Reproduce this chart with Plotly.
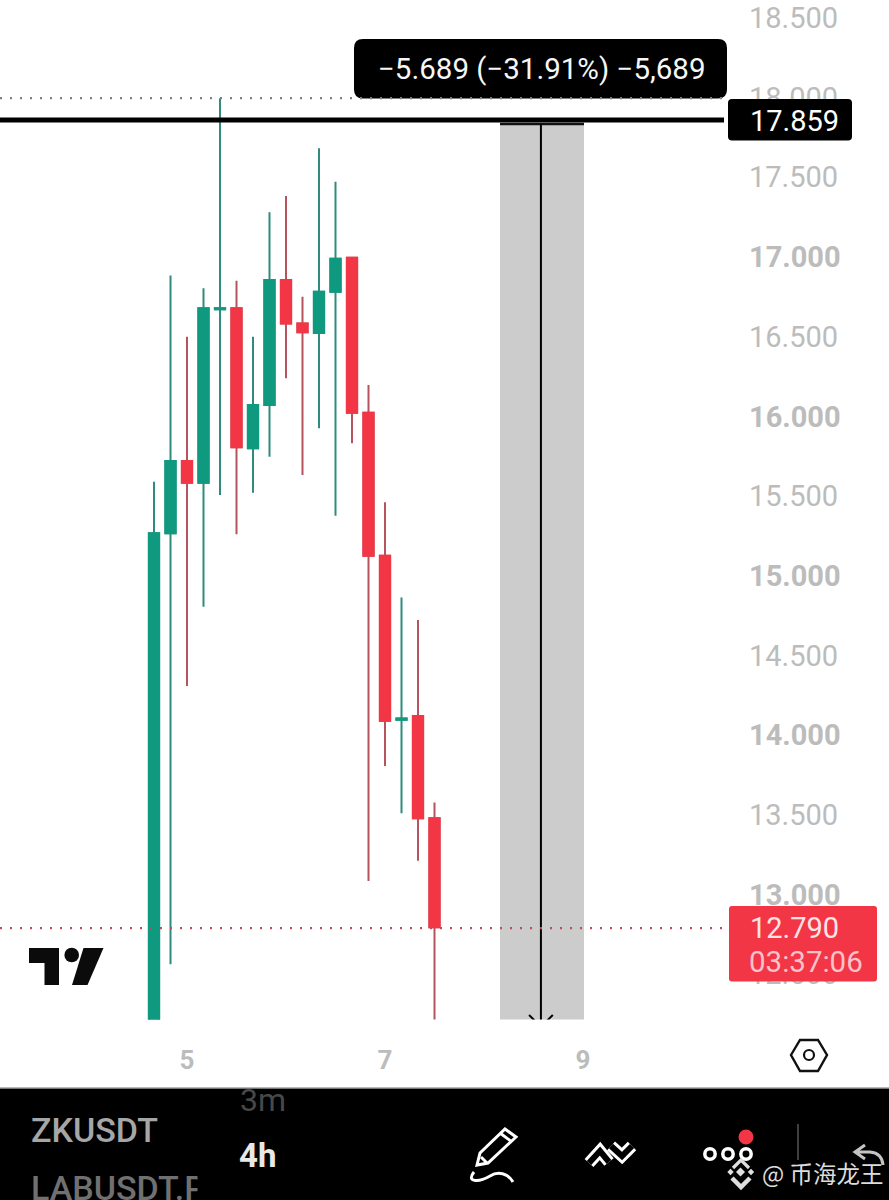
import plotly.graph_objects as go

# 4h candles
opens = [11.90, 15.267, 15.720, 15.584, 16.672, 16.678, 15.800, 16.072, 16.856, 16.582,
         16.523, 16.782, 16.995, 16.023, 15.126, 14.097, 14.120, 13.479]
closes = [15.267, 15.720, 15.584, 16.678, 16.678, 15.806, 16.072, 16.856, 16.582, 16.528,
          16.782, 16.989, 16.023, 15.126, 14.091, 14.104, 13.479, 12.795]
highs = [15.590, 16.883, 16.500, 16.804, 17.996, 16.851, 16.500, 17.280, 17.383, 16.751,
         17.682, 17.472, 17.000, 16.197, 15.461, 14.863, 14.723, 13.577]
lows = [11.80, 12.563, 14.309, 14.806, 15.507, 15.260, 15.521, 15.747, 16.239, 15.632,
        15.925, 15.377, 15.831, 13.085, 13.807, 13.510, 13.213, 12.00]
candle_index = list(range(len(opens)))

# price scale
price_ticks = [18.5, 18.0, 17.5, 17.0, 16.5, 16.0, 15.5, 15.0, 14.5, 14.0, 13.5, 13.0, 12.5]
price_labels = ["18.500", "18.000", "17.500", "<b>17.000</b>", "16.500", "<b>16.000</b>", "15.500",
                "<b>15.000</b>", "14.500", "<b>14.000</b>", "13.500", "<b>13.000</b>", "12.500"]
# date scale
day_ticks = [2, 14, 26]
day_labels = ["5", "7", "9"]

high_level = 17.996
measure_level = 17.859
last_price = 12.790
measure_top = 17.834
measure_bottom = 12.170
measure_left = 20.97
measure_mid = 23.45
measure_right = 26.06

GREEN = "#0f9a80"
RED = "#f23645"
GREEN_WICK = "#2e8b7e"
RED_WICK = "#b5545f"
GREY = "#bcbcbc"
W, H = 889, 1200


def px(x):
    return x / W


def py(y):
    return 1 - y / H


def round_box(x0, y0, x1, y1, r):
    # rounded rectangle in page pixels, as paper path
    pts = f"M {px(x0 + r)},{py(y0)} L {px(x1 - r)},{py(y0)} Q {px(x1)},{py(y0)} {px(x1)},{py(y0 + r)} "
    pts += f"L {px(x1)},{py(y1 - r)} Q {px(x1)},{py(y1)} {px(x1 - r)},{py(y1)} "
    pts += f"L {px(x0 + r)},{py(y1)} Q {px(x0)},{py(y1)} {px(x0)},{py(y1 - r)} "
    pts += f"L {px(x0)},{py(y0 + r)} Q {px(x0)},{py(y0)} {px(x0 + r)},{py(y0)} Z"
    return pts


def poly(points, closed=False):
    s = "M " + " L ".join(f"{px(a)},{py(b)}" for a, b in points)
    return s + (" Z" if closed else "")


def page_path(path, fill=None, line=None, width=0):
    return dict(type="path", xref="paper", yref="paper", path=path, layer="above",
                fillcolor=fill if fill else "rgba(0,0,0,0)",
                line=dict(color=line if line else "rgba(0,0,0,0)", width=width))


def page_circle(cx, cy, r, fill=None, line=None, width=0):
    return dict(type="circle", xref="paper", yref="paper", layer="above",
                x0=px(cx - r), x1=px(cx + r), y0=py(cy + r), y1=py(cy - r),
                fillcolor=fill if fill else "rgba(0,0,0,0)",
                line=dict(color=line if line else "rgba(0,0,0,0)", width=width))


def page_text(text, x, y, size, color, anchor="left", family="Roboto", weight=400):
    return dict(text=text, xref="paper", yref="paper", x=px(x), y=py(y), xanchor=anchor,
                yanchor="middle", showarrow=False, borderpad=0,
                font=dict(family=family, size=size, color=color, weight=weight))


fig = go.Figure()

# full candles give the wicks, the second trace repaints the bodies
fig.add_trace(go.Candlestick(
    x=candle_index, open=opens, high=highs, low=lows, close=closes, whiskerwidth=0,
    increasing=dict(line=dict(color=GREEN_WICK, width=2), fillcolor=GREEN),
    decreasing=dict(line=dict(color=RED_WICK, width=2), fillcolor=RED),
    hoverinfo="skip",
))
fig.add_trace(go.Candlestick(
    x=candle_index, open=opens, close=closes, whiskerwidth=0,
    high=[max(a, b) for a, b in zip(opens, closes)],
    low=[min(a, b) for a, b in zip(opens, closes)],
    increasing=dict(line=dict(color=GREEN, width=2), fillcolor=GREEN),
    decreasing=dict(line=dict(color=RED, width=2), fillcolor=RED),
    hoverinfo="skip",
))

shapes = [
    # measuring tool
    dict(type="rect", xref="x", yref="y", x0=measure_left, x1=measure_right, y0=measure_bottom,
         y1=measure_top, fillcolor="#cccccc", line=dict(width=0), layer="above"),
    dict(type="line", xref="x", yref="y", x0=measure_left, x1=measure_right, y0=measure_top,
         y1=measure_top, line=dict(color="#111111", width=2.5), layer="above"),
    dict(type="line", xref="x", yref="y", x0=measure_mid, x1=measure_mid, y0=measure_bottom,
         y1=measure_top, line=dict(color="#000000", width=2), layer="above"),
    dict(type="path", xref="x", yref="y", layer="above",
         path=f"M {measure_mid - 0.72},{measure_bottom + 0.075} L {measure_mid},{measure_bottom} "
              f"L {measure_mid + 0.72},{measure_bottom + 0.075}",
         line=dict(color="#000000", width=2)),
    # tooltip box, dotted high line runs over its lower edge
    page_path(round_box(354, 39, 727, 98.5, 9), fill="#000000"),
    dict(type="line", xref="paper", yref="y", x0=0, x1=px(727), y0=high_level, y1=high_level,
         line=dict(color="#808080", width=2.2, dash="2px,8px"), layer="above"),
    # level line
    dict(type="line", xref="paper", yref="y", x0=0, x1=px(724), y0=measure_level, y1=measure_level,
         line=dict(color="#000000", width=5), layer="above"),
    dict(type="line", xref="paper", yref="y", x0=0, x1=px(729), y0=last_price, y1=last_price,
         line=dict(color="#bb4f5b", width=2.2, dash="2px,8px"), layer="above"),
    # price labels
    page_path(round_box(728, 99, 852, 140.5, 4), fill="#000000"),
    page_path(round_box(729, 906, 877, 981.5, 3), fill=RED),
    # tradingview logo
    page_path(poly([(29, 948), (59, 948), (59, 985), (44.5, 985), (44.5, 963), (29, 963)], True), fill="#0b0b0b"),
    page_circle(71.7, 955, 7.3, fill="#0b0b0b"),
    page_path(poly([(83.5, 948), (103.5, 948), (87.5, 985), (72, 985)], True), fill="#0b0b0b"),
    # settings hexagon
    page_path(poly([(791, 1055), (800, 1040), (818, 1040), (827, 1055), (818, 1071), (800, 1071)], True),
              line="#111111", width=2.4),
    page_circle(809, 1055, 5, line="#111111", width=2.2),
    # bottom bar
    dict(type="rect", xref="paper", yref="paper", x0=0, x1=1, y0=0, y1=py(1089),
         fillcolor="#000000", line=dict(width=0), layer="above"),
    dict(type="rect", xref="paper", yref="paper", x0=0, x1=1, y0=py(1089), y1=py(1087.5),
         fillcolor="#777777", line=dict(width=0), layer="above"),
    # pencil
    page_path(poly([(477, 1165), (480, 1153), (505, 1129), (516, 1137), (488, 1163)], True),
              line="#ffffff", width=3),
    page_path(poly([(500, 1133), (512, 1142)]), line="#ffffff", width=3),
    page_path(poly([(481, 1157), (487, 1163)]), line="#ffffff", width=3),
    page_path(f"M {px(474)},{py(1172)} C {px(466)},{py(1182)} {px(478)},{py(1183)} {px(490)},{py(1176)} "
              f"C {px(498)},{py(1171)} {px(508)},{py(1173)} {px(513)},{py(1182)}",
              line="#ffffff", width=3),
    # line tools, two outlined chevrons
    page_path(poly([(589, 1163), (600, 1151), (609, 1162)]), line="#ffffff", width=12),
    page_path(poly([(589, 1163), (600, 1151), (609, 1162)]), line="#000000", width=6),
    page_path(poly([(611, 1146), (622, 1156), (632, 1146)]), line="#ffffff", width=12),
    page_path(poly([(611, 1146), (622, 1156), (632, 1146)]), line="#000000", width=6),
    # more menu
    page_circle(710, 1154, 5.2, line="#ffffff", width=3.5),
    page_circle(728, 1154, 5.2, line="#ffffff", width=3.5),
    page_circle(746, 1154, 5.2, line="#ffffff", width=3.5),
    page_circle(746, 1137, 7.5, fill=RED),
    page_path(poly([(798, 1124), (798, 1160)]), line="#555555", width=1.5),
    # undo arrow
    page_path(f"M {px(865)},{py(1145)} L {px(855)},{py(1152)} L {px(865)},{py(1159)} "
              f"M {px(855)},{py(1152)} L {px(870)},{py(1152)} Q {px(882)},{py(1153)} {px(883)},{py(1165)}",
              line="#c4c4c4", width=3),
    # watermark logo
    page_path(poly([(733, 1168), (741, 1160), (749, 1168)]), line="#dedede", width=3.2),
    page_path(poly([(732, 1178), (741, 1187), (750, 1178)]), line="#dedede", width=4.5),
]

for cx, cy, r in [(740.5, 1172, 4.5), (730.5, 1172, 3.2), (751, 1172, 3.2)]:
    shapes.append(page_path(poly([(cx, cy - r), (cx + r, cy), (cx, cy + r), (cx - r, cy)], True), fill="#e0e0e0"))

annotations = [
    page_text("−5.689 (−31.91%) −5,689", 542, 69, 29.5, "#f6f6f6", "center"),
    page_text("17.859", 749, 120.5, 29, "#ffffff"),
    page_text("12.790", 749, 928, 29, "#fde3e6"),
    page_text("03:37:06", 747.5, 962, 29.5, "#f9c3c9"),
    page_text("ZKUSDT", 30, 1130, 34, "#a6a6a6", weight=500),
    page_text("LABUSDT.P", 30, 1188, 34, "#707070", weight=500),
    dict(text=" ", xref="paper", yref="paper", x=px(197), y=py(1185), xanchor="left", yanchor="middle",
         showarrow=False, bgcolor="#000000", width=40, height=40),
    page_text("3m", 239, 1100, 32, "#484848"),
    page_text("<b>4h</b>", 238, 1155, 33, "#e8e8e8"),
    page_text("@ 币海龙王", 761, 1173, 23.5, "#dcdcdc", family="Noto Sans CJK SC"),
]

fig.update_layout(
    width=W, height=H, margin=dict(l=0, r=0, t=0, b=0), autosize=False,
    paper_bgcolor="#ffffff", plot_bgcolor="#ffffff", showlegend=False,
    boxgap=0.38, boxgroupgap=0, dragmode=False,
    font=dict(family="Roboto"),
    shapes=shapes, annotations=annotations,
    xaxis=dict(domain=[0, 745 / W], range=[(0 - 154) / 16.5, (745 - 154) / 16.5],
               rangeslider=dict(visible=False), showgrid=False, zeroline=False, showline=False,
               tickmode="array", tickvals=day_ticks, ticktext=[f"<b>{d}</b>" for d in day_labels],
               ticks="", ticklabelstandoff=22, tickfont=dict(size=26, color=GREY, family="Roboto")),
    yaxis=dict(domain=[1 - 1019.5 / H, 1], range=[12.2165, 18.612], side="right",
               showgrid=False, zeroline=False, showline=False,
               tickmode="array", tickvals=price_ticks, ticktext=price_labels,
               ticks="", ticklabelstandoff=3, tickfont=dict(size=29, color=GREY, family="Roboto")),
)

fig.write_html("out.html", config={"displayModeBar": False},
               post_script="document.body.style.margin='0';document.body.style.overflow='hidden';")
